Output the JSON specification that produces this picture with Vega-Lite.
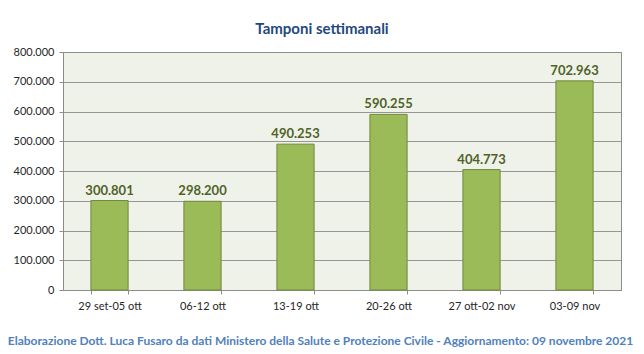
{
  "$schema": "https://vega.github.io/schema/vega-lite/v6.json",
  "width": 558,
  "height": 238,
  "autosize": {"type": "none"},
  "padding": {"left": 63, "top": 52, "right": 23, "bottom": 64},
  "background": "white",
  "title": {
    "text": "Tamponi settimanali",
    "anchor": "middle",
    "dx": -20,
    "offset": 9,
    "font": "Lato",
    "fontSize": 15,
    "fontWeight": "bold",
    "color": "#1F497D"
  },
  "data": {
    "values": [
      {"settimana": "29 set-05 ott", "tamponi": 300801},
      {"settimana": "06-12 ott", "tamponi": 298200},
      {"settimana": "13-19 ott", "tamponi": 490253},
      {"settimana": "20-26 ott", "tamponi": 590255},
      {"settimana": "27 ott-02 nov", "tamponi": 404773},
      {"settimana": "03-09 nov", "tamponi": 702963}
    ]
  },
  "encoding": {
    "x": {
      "field": "settimana",
      "type": "nominal",
      "sort": null,
      "scale": {"paddingInner": 0.6, "paddingOuter": 0.3},
      "axis": {
        "title": "Elaborazione Dott. Luca Fusaro da dati Ministero della Salute e Protezione Civile - Aggiornamento: 09 novembre 2021",
        "titleX": 257,
        "titleY": 50,
        "titleBaseline": "middle",
        "titleAnchor": "middle",
        "titleAlign": "center",
        "titleFont": "Lato",
        "titleFontSize": 12,
        "titleFontWeight": "bold",
        "titleColor": "#4F81BD",
        "labelAngle": 0,
        "labelFont": "Lato",
        "labelFontSize": 11,
        "labelColor": "#262626",
        "labelPadding": 6,
        "tickBand": "extent",
        "tickSize": 4,
        "tickColor": "#8C8C8C",
        "domainColor": "#8C8C8C"
      }
    },
    "y": {
      "field": "tamponi",
      "type": "quantitative",
      "scale": {"domain": [0, 800000], "nice": false},
      "axis": {
        "title": null,
        "values": [0, 100000, 200000, 300000, 400000, 500000, 600000, 700000, 800000],
        "format": ",d",
        "labelFont": "Lato",
        "labelFontSize": 11,
        "labelColor": "#262626",
        "labelPadding": 5,
        "tickSize": 4,
        "tickColor": "#8C8C8C",
        "domainColor": "#8C8C8C",
        "gridColor": "#8C8C8C",
        "gridOpacity": 0.9
      }
    }
  },
  "layer": [
    {
      "mark": {"type": "bar", "color": "#9BBB59", "stroke": "#71893F", "strokeWidth": 1}
    },
    {
      "mark": {"type": "text", "dy": -10, "font": "Lato", "fontSize": 13, "fontWeight": "bold", "color": "#4F6228"},
      "encoding": {"text": {"field": "tamponi", "type": "quantitative", "format": ",d"}}
    }
  ],
  "config": {
    "locale": {"number": {"decimal": ",", "thousands": ".", "grouping": [3], "currency": ["€", ""]}},
    "view": {"fill": "#EFF2E9", "stroke": "#8C8C8C"}
  }
}
